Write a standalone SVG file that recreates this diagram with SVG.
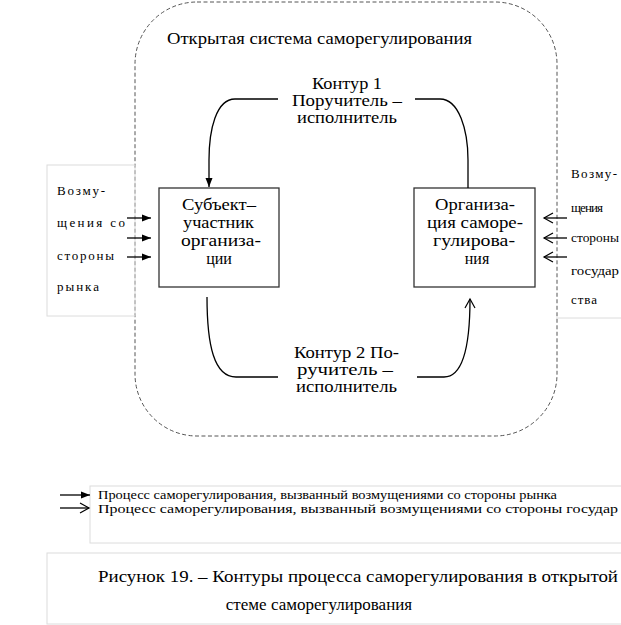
<svg xmlns="http://www.w3.org/2000/svg" width="621" height="625" viewBox="0 0 621 625" font-family="Liberation Serif, Times New Roman, serif">
<style>
text{font-family:"Liberation Serif",serif;fill:#000}
.box{fill:#fff;stroke:#333;stroke-width:1.3}
.frame{fill:none;stroke:#dcdcdc;stroke-width:1}
.dash{fill:none;stroke:#555;stroke-width:1;stroke-dasharray:4 2.5}
.ln{fill:none;stroke:#000;stroke-width:1.3}
.t17{font-size:17px}
.t16{font-size:16px}
.small{font-size:13px}
.leg{font-size:12.5px}
</style>
<defs>
<marker id="fa" markerWidth="10" markerHeight="8" refX="9" refY="4" orient="auto" markerUnits="userSpaceOnUse">
<path d="M0,0.5 L9,4 L0,7.5 z" fill="#000"/>
</marker>
<marker id="oa" markerWidth="12" markerHeight="12" refX="10" refY="6" orient="auto" markerUnits="userSpaceOnUse">
<path d="M1,1 L10,6 L1,11" fill="none" stroke="#000" stroke-width="1.2"/>
</marker>
</defs>
<rect width="621" height="625" fill="#fff"/>

<g id="system-frame">
<rect class="dash" x="135" y="2" width="422" height="434" rx="62" ry="62"/>
<text class="t17" x="167" y="44" textLength="305" lengthAdjust="spacingAndGlyphs">Открытая система саморегулирования</text>
</g>

<g id="market-box">
<rect class="frame" x="47" y="165" width="88" height="151"/>
<text class="small" x="57" y="195" textLength="48" lengthAdjust="spacing">Возму-</text>
<text class="small" x="57" y="227" textLength="68" lengthAdjust="spacing">щения со</text>
<text class="small" x="57" y="260" textLength="57" lengthAdjust="spacing">стороны</text>
<text class="small" x="57" y="291" textLength="42" lengthAdjust="spacing">рынка</text>
</g>

<g id="state-box">
<line class="frame" x1="556" y1="318" x2="621" y2="318"/>
<text class="small" x="571" y="178" textLength="46" lengthAdjust="spacing">Возму-</text>
<text class="small" x="571" y="212" textLength="32" lengthAdjust="spacing">щения</text>
<text class="small" x="571" y="242" textLength="48" lengthAdjust="spacingAndGlyphs">стороны</text>
<text class="small" x="571" y="275" textLength="48" lengthAdjust="spacingAndGlyphs">государ</text>
<text class="small" x="571" y="304" textLength="26" lengthAdjust="spacing">ства</text>
</g>

<g id="subject">
<rect class="box" x="159" y="188" width="120" height="99"/>
<text class="t16" x="182" y="210" textLength="74" lengthAdjust="spacingAndGlyphs">Субъект–</text>
<text class="t16" x="183" y="228" textLength="71" lengthAdjust="spacingAndGlyphs">участник</text>
<text class="t16" x="181" y="246" textLength="80" lengthAdjust="spacingAndGlyphs">организа-</text>
<text class="t16" x="219" y="264" text-anchor="middle">ции</text>
</g>

<g id="organization">
<rect class="box" x="414" y="188" width="121" height="99"/>
<text class="t16" x="435" y="210" textLength="80" lengthAdjust="spacingAndGlyphs">Организа-</text>
<text class="t16" x="427" y="228" textLength="96" lengthAdjust="spacingAndGlyphs">ция саморе-</text>
<text class="t16" x="433" y="246" textLength="82" lengthAdjust="spacingAndGlyphs">гулирова-</text>
<text class="t16" x="477" y="264" text-anchor="middle">ния</text>
</g>

<g id="contour1-label">
<text class="t16" x="312" y="89" textLength="70" lengthAdjust="spacingAndGlyphs">Контур 1</text>
<text class="t16" x="292" y="106" textLength="110" lengthAdjust="spacingAndGlyphs">Поручитель –</text>
<text class="t16" x="297" y="123" textLength="100" lengthAdjust="spacingAndGlyphs">исполнитель</text>
</g>

<g id="contour2-label">
<text class="t16" x="294" y="358" textLength="105" lengthAdjust="spacingAndGlyphs">Контур 2 По-</text>
<text class="t16" x="297" y="375" textLength="96" lengthAdjust="spacingAndGlyphs">ручитель –</text>
<text class="t16" x="296" y="392" textLength="101" lengthAdjust="spacingAndGlyphs">исполнитель</text>
</g>

<g id="connectors">
<path class="ln" d="M278,99 H235 C216,99 209,130 209,160 V187" marker-end="url(#fa)"/>
<path class="ln" d="M415,99 H440 C459,99 468,130 468,160 V188"/>
<path class="ln" d="M207,297 C207,345 214,377 236,377 H278"/>
<path class="ln" d="M417,377 H444 C463,377 470,345 470,299" marker-end="url(#oa)"/>
<line class="ln" x1="127" y1="218" x2="151" y2="218" marker-end="url(#fa)"/>
<line class="ln" x1="127" y1="238" x2="151" y2="238" marker-end="url(#fa)"/>
<line class="ln" x1="127" y1="257" x2="151" y2="257" marker-end="url(#fa)"/>
<line class="ln" x1="567" y1="218" x2="544" y2="218" marker-end="url(#oa)"/>
<line class="ln" x1="567" y1="238" x2="544" y2="238" marker-end="url(#oa)"/>
<line class="ln" x1="567" y1="257" x2="544" y2="257" marker-end="url(#oa)"/>
</g>

<g id="legend">
<rect class="frame" x="90" y="486" width="540" height="57"/>
<line class="ln" x1="60" y1="495" x2="90" y2="495" marker-end="url(#fa)"/>
<line class="ln" x1="60" y1="508" x2="89" y2="508" marker-end="url(#oa)"/>
<text class="leg" x="98" y="499" textLength="459" lengthAdjust="spacingAndGlyphs">Процесс саморегулирования, вызванный возмущениями со стороны рынка</text>
<text class="leg" x="98" y="513" textLength="520" lengthAdjust="spacingAndGlyphs">Процесс саморегулирования, вызванный возмущениями со стороны государ</text>
</g>

<g id="caption">
<rect class="frame" x="47" y="553" width="590" height="71"/>
<text class="t17" x="98" y="582" textLength="520" lengthAdjust="spacingAndGlyphs">Рисунок 19. – Контуры процесса саморегулирования в открытой</text>
<text class="t17" text-anchor="middle" x="319" y="610">стеме саморегулирования</text>
</g>
</svg>
